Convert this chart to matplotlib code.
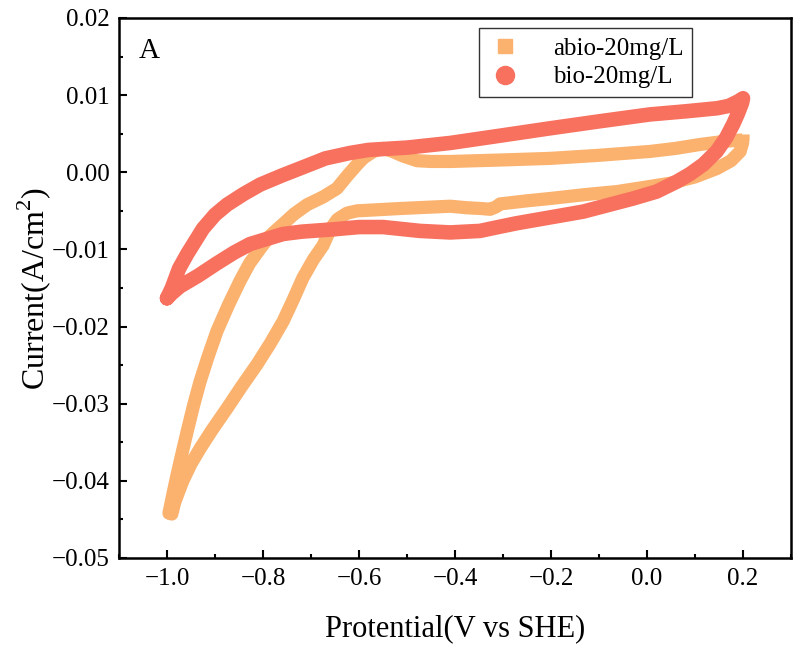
import matplotlib
matplotlib.use("Agg")
import matplotlib.pyplot as plt
from matplotlib.lines import Line2D

plt.rcParams['font.family'] = ['Liberation Serif', 'DejaVu Serif']
plt.rcParams['mathtext.fontset'] = 'custom'
plt.rcParams['mathtext.rm'] = 'Liberation Serif'

# bio-20mg/L loop (potential V, current A/cm2)
bio_x = [-1.0, -0.99, -0.975, -0.958, -0.94, -0.925, -0.90, -0.875, -0.84, -0.806,
         -0.76, -0.723, -0.67, -0.619, -0.58, -0.50, -0.41, -0.30, -0.202, -0.10,
         0.006, 0.08, 0.146, 0.17, 0.19, 0.20,
         0.198, 0.19, 0.18, 0.165, 0.145, 0.117, 0.09, 0.0625, 0.02, -0.029,
         -0.133, -0.271, -0.31, -0.348, -0.41, -0.473, -0.55, -0.60, -0.654, -0.72,
         -0.758, -0.79, -0.827, -0.86, -0.896, -0.935, -0.973, -0.99, -1.0]
bio_y = [-0.01633, -0.0150, -0.0125, -0.0106, -0.0088, -0.0073, -0.0055, -0.0042, -0.0028, -0.0016,
         -0.0004, 0.0005, 0.0018, 0.0025, 0.0029, 0.0032, 0.0038, 0.0048, 0.0057, 0.0066,
         0.0075, 0.0079, 0.0083, 0.0086, 0.0092, 0.0096,
         0.0090, 0.0077, 0.0063, 0.0045, 0.0027, 0.0010, -0.0002, -0.0012, -0.0025, -0.0034,
         -0.0051, -0.0066, -0.0071, -0.0076, -0.0078, -0.0076, -0.0071, -0.0071, -0.0074, -0.0077,
         -0.0080, -0.0086, -0.0093, -0.0104, -0.0118, -0.0134, -0.0148, -0.0157, -0.01633]

# abio-20mg/L loop
abio_x = [0.200, 0.200, 0.16, 0.11, 0.06, 0.006, -0.10, -0.202, -0.30, -0.41,
          -0.45, -0.479, -0.508, -0.53, -0.55, -0.57, -0.59, -0.604, -0.625, -0.646,
          -0.675, -0.708, -0.735, -0.758, -0.785, -0.806, -0.828, -0.848, -0.872, -0.896,
          -0.915, -0.931, -0.945, -0.958, -0.969, -0.979, -0.988, -0.996,
          -0.99, -0.984, -0.975, -0.967, -0.95, -0.931, -0.905, -0.875, -0.845, -0.8125,
          -0.785, -0.758, -0.737, -0.717, -0.695, -0.675, -0.66, -0.645, -0.625, -0.604,
          -0.515, -0.41, -0.375, -0.345, -0.327, -0.315, -0.306, -0.25, -0.202, -0.13,
          -0.0625, 0.0, 0.05, 0.10, 0.146, 0.175, 0.194, 0.200]
abio_y = [0.0049, 0.0042, 0.0040, 0.0036, 0.0031, 0.0027, 0.0022, 0.0018, 0.0016, 0.0014,
          0.0014, 0.0015, 0.0021, 0.0027, 0.0031, 0.0027, 0.0019, 0.0010, -0.0005, -0.0021,
          -0.0032, -0.0042, -0.0054, -0.0067, -0.0082, -0.0099, -0.0118, -0.0141, -0.0172, -0.0206,
          -0.0240, -0.0271, -0.0303, -0.0336, -0.0365, -0.0392, -0.0418, -0.0442,
          -0.0443, -0.0428, -0.0413, -0.0400, -0.0378, -0.0358, -0.0333, -0.0306, -0.0278, -0.0249,
          -0.0222, -0.0193, -0.0165, -0.0137, -0.0113, -0.0095, -0.0074, -0.0061, -0.0053, -0.0050,
          -0.0047, -0.0044, -0.0046, -0.0047, -0.0048, -0.0045, -0.0041, -0.0037, -0.0034, -0.0029,
          -0.0025, -0.0019, -0.0014, -0.0006, 0.0005, 0.0015, 0.0027, 0.0040]

orange = '#FAB26E'
red = '#F8705E'

fig = plt.figure(figsize=(7.95, 6.52), dpi=100)
ax = fig.add_axes([0.1497, 0.1442, 0.8453, 0.8282])

ax.plot(abio_x, abio_y, color=orange, lw=9.5, solid_capstyle='butt', solid_joinstyle='round', zorder=2)
ax.plot(bio_x, bio_y, color=red, lw=10.5, solid_capstyle='round', solid_joinstyle='round', zorder=3)

ax.set_xlim(-1.1, 0.3)
ax.set_ylim(-0.05, 0.02)
ax.set_xticks([-1.0, -0.8, -0.6, -0.4, -0.2, 0.0, 0.2])
ax.set_xticklabels(['\u22121.0', '\u22120.8', '\u22120.6', '\u22120.4', '\u22120.2', '0.0', '0.2'])
ax.set_yticks([0.02, 0.01, 0.0, -0.01, -0.02, -0.03, -0.04, -0.05])
ax.set_yticklabels(['0.02', '0.01', '0.00', '\u22120.01', '\u22120.02', '\u22120.03', '\u22120.04', '\u22120.05'])
ax.set_xticks([-1.1, -0.9, -0.7, -0.5, -0.3, -0.1, 0.1, 0.3], minor=True)
ax.set_yticks([0.015, 0.005, -0.005, -0.015, -0.025, -0.035, -0.045], minor=True)
ax.tick_params(which='both', direction='in', top=False, right=False, width=1.5, labelsize=18)
ax.tick_params(which='major', length=6, pad=7)
ax.tick_params(which='minor', length=3)
for s in ax.spines.values():
    s.set_linewidth(1.8)

ax.set_xlabel('Protential(V vs SHE)', fontsize=22, labelpad=18)
ax.set_ylabel('Current(A/cm$^2$)', fontsize=23, labelpad=-1)

ax.text(0.030, 0.926, 'A', transform=ax.transAxes, fontsize=21, va='baseline', ha='left')

handles = [Line2D([], [], ls='none', marker='s', ms=10, color=orange),
           Line2D([], [], ls='none', marker='o', ms=13, color=red)]
ax.legend(handles, ['abio-20mg/L', 'bio-20mg/L'], loc='upper right',
          bbox_to_anchor=(0.853, 0.981), borderaxespad=0, fontsize=18,
          frameon=True, fancybox=False, edgecolor='#333333', framealpha=1,
          handletextpad=1.2, labelspacing=0.25, borderpad=0.35, handlelength=1.4)

fig.savefig('out.png', dpi=100, facecolor='white')
